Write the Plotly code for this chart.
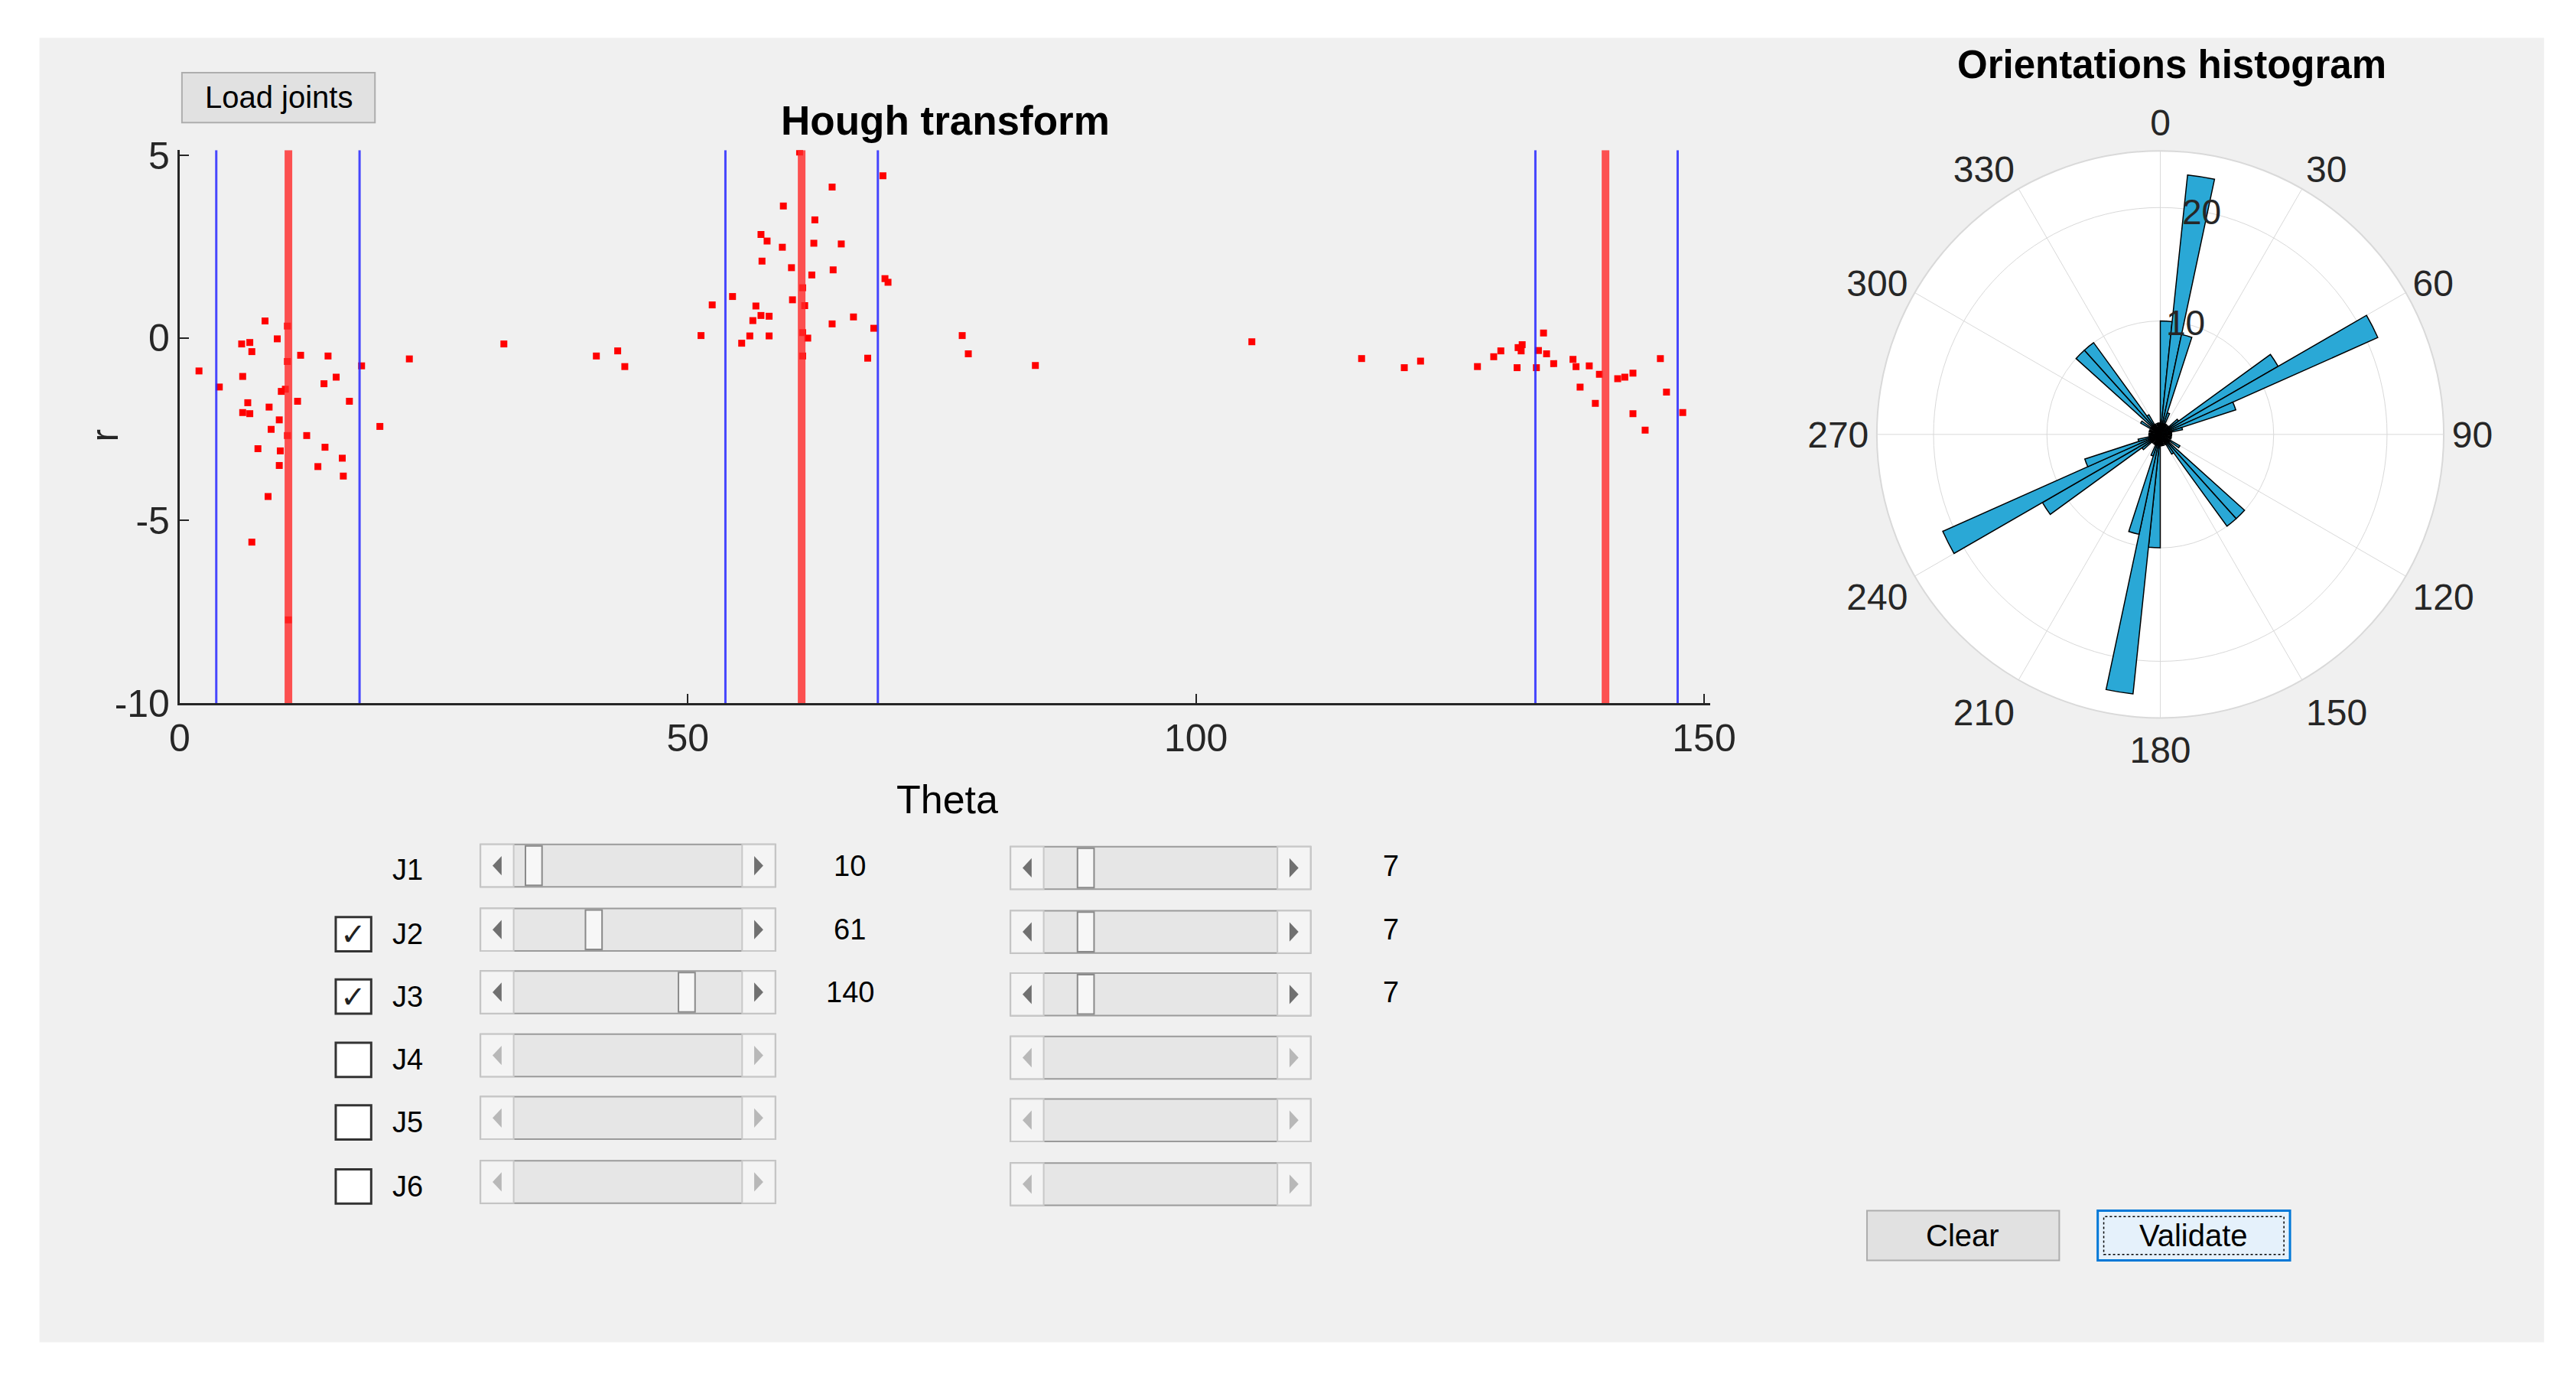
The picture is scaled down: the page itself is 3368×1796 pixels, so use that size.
import plotly.graph_objects as go

W, H = 3368, 1796
FONT = "Liberation Sans"

# Hough transform points (theta, r)
theta_pts = [1.9, 3.9, 6.1, 6.2, 6.7, 6.2, 6.9, 6.9, 7.1, 7.1, 8.4, 8.8, 9.0, 7.7, 8.7,
             9.6, 9.8, 9.9, 9.8, 10.0, 10.6, 10.6, 10.4, 10.6, 10.7, 11.6, 11.9, 12.5,
             13.6, 14.2, 14.3, 14.6, 15.4, 16.0, 16.1, 16.7, 17.9, 19.7, 22.6, 31.9,
             41.0, 43.1, 43.8,
             51.3, 52.4, 54.4, 55.3, 56.1, 56.4, 56.7, 57.2, 57.8, 57.3, 57.2, 58.0, 58.0,
             59.3, 59.4, 60.2, 60.3, 61.0, 61.3, 61.5, 61.3, 61.8, 61.3, 62.2, 62.5, 62.4,
             64.2, 64.3, 64.2, 65.1, 66.3, 67.7, 68.3, 69.2, 69.4, 69.7,
             77.0, 77.6, 84.2, 105.5, 116.3, 120.5, 122.1, 127.7, 129.3, 130.0, 131.7,
             132.0, 132.1, 131.6, 133.5, 133.7, 134.2, 134.5, 135.2, 137.1, 137.4, 137.8,
             138.7, 139.3, 139.7, 141.5, 142.2, 143.0, 143.0, 144.2, 145.7, 146.3, 147.9]
r_pts = [-0.9, -1.34, -0.16, -1.05, -1.77, -2.04, -2.07, -0.12, -0.37, -5.59, 0.47, -1.89,
         -2.5, -3.03, -4.34, -0.02, -2.24, -3.09, -3.49, -1.46, 0.33, -0.64, -1.4, -2.67,
         -7.72, -1.73, -0.47, -2.67, -3.52, -1.25, -2.99, -0.49, -1.07, -3.29, -3.78, -1.73,
         -0.76, -2.42, -0.57, -0.16, -0.49, -0.35, -0.78,
         0.07, 0.91, 1.14, -0.14, 0.06, 0.48, 0.88, 2.84, 2.66, 2.11, 0.62, 0.06, 0.6,
         2.49, 3.62, 1.93, 1.05, 5.1, 1.38, 0.89, 0.15, 0.0, -0.49, 1.73, 3.24, 2.6,
         4.14, 1.87, 0.39, 2.58, 0.58, -0.55, 0.27, 4.45, 1.63, 1.53,
         0.07, -0.43, -0.75, -0.1, -0.56, -0.81, -0.63, -0.78, -0.51, -0.35, -0.26,
         -0.35, -0.18, -0.81, -0.81, -0.34, 0.14, -0.43, -0.7, -0.58, -0.78, -1.34,
         -0.76, -1.79, -0.99, -1.11, -1.07, -0.96, -2.07, -2.52, -0.56, -1.48, -2.04]

joint_theta = [10.7, 61.2, 140.3]
joint_lo = [3.6, 53.7, 133.4]
joint_hi = [17.7, 68.7, 147.4]

# orientations histogram (bin centers in degrees, counts)
bin_centers = [3, 9, 15, 21, 27, 33, 39, 45, 51, 57, 63, 69, 75, 81, 87, 93, 99, 105, 111,
               117, 123, 129, 135, 141, 147, 153, 159, 165, 171, 177,
               183, 189, 195, 201, 207, 213, 219, 225, 231, 237, 243, 249, 255, 261, 267,
               273, 279, 285, 291, 297, 303, 309, 315, 321, 327, 333, 339, 345, 351, 357]
bin_counts = [10, 23, 9, 2, 1, 1, 0, 1, 2, 12, 21, 7, 2, 1, 1, 1, 0, 1, 1,
              0, 2, 1, 10, 10, 2, 1, 0, 1, 1, 1,
              10, 23, 9, 2, 1, 1, 0, 1, 2, 12, 21, 7, 2, 1, 1, 1, 0, 1, 1,
              0, 2, 1, 10, 10, 2, 1, 0, 1, 1, 1]
angle_ticks = [0, 30, 60, 90, 120, 150, 180, 210, 240, 270, 300, 330]
radial_ticks = [10, 20]

# joint controls
row_labels = ["J1", "J2", "J3", "J4", "J5", "J6"]
row_checked = [None, True, True, False, False, False]
row_theta = [10, 61, 140, None, None, None]
row_width = [7, 7, 7, None, None, None]


def px(x):
    return x / W


def py(y):
    return 1 - y / H


fig = go.Figure()

fig.add_trace(go.Scatter(
    x=theta_pts, y=r_pts, mode="markers",
    marker=dict(symbol="square", size=9, color="#ff0000"),
    showlegend=False,
))

for lo, hi in zip(joint_lo, joint_hi):
    for t in (lo, hi):
        fig.add_trace(go.Scatter(x=[t, t], y=[-10, 5.15], mode="lines",
                                 line=dict(color="rgba(40,40,255,0.85)", width=3),
                                 showlegend=False))
for t in joint_theta:
    fig.add_trace(go.Scatter(x=[t, t], y=[-10, 5.15], mode="lines",
                             line=dict(color="rgba(255,40,40,0.8)", width=10),
                             showlegend=False))

fig.add_trace(go.Barpolar(
    theta=bin_centers, r=bin_counts, width=[6] * len(bin_centers),
    marker=dict(color="#2aa8d6", line=dict(color="#000000", width=1.5)),
    showlegend=False,
))

shapes = []
annots = []

# panel background
shapes.append(dict(type="rect", xref="paper", yref="paper", x0=px(30), x1=px(3352),
                   y0=py(1775), y1=py(22), fillcolor="#f0f0f0", line=dict(width=0),
                   layer="below"))


def rect(x0, y0, x1, y1, fill, line="#adadad", lw=2, dash=None):
    shapes.append(dict(type="rect", xref="paper", yref="paper", x0=px(x0), x1=px(x1),
                       y0=py(y1), y1=py(y0), fillcolor=fill,
                       line=dict(color=line, width=lw, dash=dash)))


def text(x, y, s, size=36, bold=False, color="#000000", anchor="center"):
    if bold:
        s = "<b>" + s + "</b>"
    annots.append(dict(x=px(x), y=py(y), xref="paper", yref="paper", text=s,
                       showarrow=False, xanchor=anchor, yanchor="middle",
                       font=dict(family=FONT, size=size, color=color)))


def tri(cx, cy, direction, color):
    d = 6 * direction
    path = (f"M {px(cx - d)} {py(cy - 13)} L {px(cx + d)} {py(cy)} "
            f"L {px(cx - d)} {py(cy + 13)} Z")
    shapes.append(dict(type="path", xref="paper", yref="paper", path=path,
                       fillcolor=color, line=dict(width=0)))


def slider(x0, x1, y0, y1, frac, enabled):
    rect(x0, y0, x1, y1, "#e6e6e6", line="#9a9a9a", lw=2)
    aw = 44
    rect(x0, y0, x0 + aw, y1, "#f4f4f4", line="#c8c8c8", lw=2)
    rect(x1 - aw, y0, x1, y1, "#f4f4f4", line="#c8c8c8", lw=2)
    col = "#707070" if enabled else "#b8b8b8"
    tri(x0 + aw / 2, (y0 + y1) / 2, -1, col)
    tri(x1 - aw / 2, (y0 + y1) / 2, 1, col)
    if frac is not None:
        tw = 22
        t0 = x0 + aw + frac * (x1 - x0 - 2 * aw - tw)
        rect(t0, y0 + 2, t0 + tw, y1 - 2, "#f7f7f7", line="#8a8a8a", lw=2)


row_top = [1106, 1192, 1276, 1361, 1445, 1531]
for i, lab in enumerate(row_labels):
    y0 = row_top[i]
    y1 = y0 + 57
    yc = (y0 + y1) / 2 + 6
    if row_checked[i] is not None:
        rect(423, yc - 23, 470, yc + 23, "#ffffff", line="#333333", lw=3)
        if row_checked[i]:
            text(446, yc, "✓", size=40, color="#222222")
    text(518, yc, lab, size=38)
    th = row_theta[i]
    slider(615, 1006, y0, y1, None if th is None else th / 180, th is not None)
    wd = row_width[i]
    slider(1318, 1716, y0 + 3, y1 + 3, None if wd is None else wd / 45, wd is not None)
    if th is not None:
        text(1105, yc - 6, str(th), size=38)
        text(1822, yc - 6, str(wd), size=38)

# buttons
rect(219, 69, 475, 136, "#e1e1e1", line="#adadad")
text(347, 102, "Load joints", size=40)
rect(2454, 1598, 2709, 1665, "#e1e1e1", line="#adadad")
text(2581, 1631, "Clear", size=40)
rect(2760, 1598, 3015, 1665, "#e5f1fb", line="#0078d7", lw=3)
rect(2768, 1606, 3007, 1657, "rgba(0,0,0,0)", line="#000000", lw=1.5, dash="dot")
text(2887, 1631, "Validate", size=40)

# titles
text(1232, 133, "Hough transform", size=53, bold=True)
text(1234, 1046, "Theta", size=52)
annots.append(dict(x=px(86), y=py(545), xref="paper", yref="paper", text="r",
                   showarrow=False, textangle=-90,
                   font=dict(family=FONT, size=50, color="#262626")))
text(2858, 58, "Orientations histogram", size=51, bold=True)

# radial tick labels of the rose, drawn horizontally like MATLAB
text(2876, 405, str(radial_ticks[0]), size=46, color="#262626")
text(2898, 256, str(radial_ticks[1]), size=46, color="#262626")

fig.update_layout(
    width=W, height=H,
    margin=dict(l=0, r=0, t=0, b=0),
    paper_bgcolor="#ffffff",
    plot_bgcolor="#ffffff",
    font=dict(family=FONT, size=50, color="#262626"),
    shapes=shapes,
    annotations=annots,
    xaxis=dict(domain=[px(216), px(2246)], range=[0, 150.6], tickvals=[0, 50, 100, 150],
               ticks="inside", ticklen=12, tickwidth=2, tickcolor="#262626",
               showline=True, linecolor="#262626", linewidth=3, showgrid=False,
               zeroline=False, tickfont=dict(size=50), anchor="y"),
    yaxis=dict(domain=[py(916), py(173)], range=[-10, 5.15], tickvals=[-10, -5, 0, 5],
               ticktext=["-10", "-5", "0", "5"],
               ticks="inside", ticklen=12, tickwidth=2, tickcolor="#262626",
               showline=True, linecolor="#262626", linewidth=3, showgrid=False,
               zeroline=False, tickfont=dict(size=50), anchor="x"),
    polar=dict(
        domain=dict(x=[px(2843 - 381), px(2843 + 381)], y=[py(936), py(174)]),
        bgcolor="#ffffff",
        angularaxis=dict(rotation=90, direction="clockwise",
                         tickvals=angle_ticks, ticktext=[str(a) for a in angle_ticks],
                         gridcolor="#d9d9d9", linecolor="#d9d9d9", linewidth=2,
                         ticks="", tickfont=dict(size=48, color="#262626")),
        radialaxis=dict(range=[0, 25], tickvals=radial_ticks, angle=78,
                        showticklabels=False, gridcolor="#d9d9d9", showline=False,
                        ticks=""),
    ),
)

fig.write_html("out.html")
